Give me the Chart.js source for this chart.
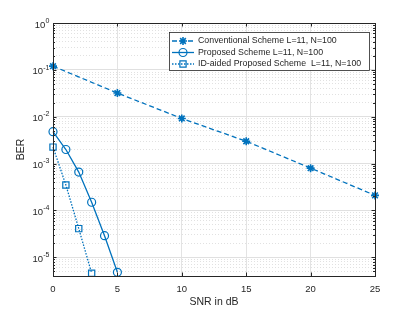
<!DOCTYPE html>
<html><head><meta charset="utf-8">
<script src="https://cdn.jsdelivr.net/npm/chart.js@4/dist/chart.umd.min.js"></script>
<style>html,body{margin:0;padding:0;background:#fff}#wrap{width:415px;height:312px;position:relative}</style>
</head><body><div id="wrap"><canvas id="c"></canvas></div>
<script>
const snrConv = [0, 5, 10, 15, 20, 25];
const berConv = [0.12, 0.032, 0.0092, 0.003, 0.0008, 0.00021];
const snrProp = [0, 1, 2, 3, 4, 5];
const berProp = [0.0048, 0.002, 0.00066, 0.00015, 0.000029, 0.0000048];
const snrId = [0, 1, 2, 3];
const berId = [0.00225, 0.00035, 0.000041, 0.0000046];
const xTicks = [0, 5, 10, 15, 20, 25];
const yDecades = [0, -1, -2, -3, -4, -5];
const seriesNames = ['Conventional Scheme L=11, N=100', 'Proposed Scheme L=11, N=100', 'ID-aided Proposed Scheme  L=11, N=100'];
const xTitle = 'SNR in dB';
const yTitle = 'BER';

const BLUE = '#0072BD';
const AX = '#262626';
const FONT = '"Liberation Sans", Arial, sans-serif';

function pts(xs, ys) { return xs.map((x, i) => ({x: x, y: ys[i]})); }

const styles = [
  {borderDash: [5, 3], pointStyle: 'star', pointRadius: 4, lineWidth: 1.3},
  {borderDash: [], pointStyle: 'circle', pointRadius: 4, lineWidth: 1.3},
  {borderDash: [1.5, 1.5], pointStyle: 'rect', pointRadius: 4.4, lineWidth: 1.3}
];

const datasets = [pts(snrConv, berConv), pts(snrProp, berProp), pts(snrId, berId)].map((d, i) => ({
  label: seriesNames[i], data: d,
  borderColor: BLUE, backgroundColor: 'rgba(0,0,0,0)',
  borderWidth: styles[i].lineWidth, borderDash: styles[i].borderDash,
  pointStyle: styles[i].pointStyle, pointRadius: styles[i].pointRadius,
  pointBorderColor: BLUE, pointBackgroundColor: 'rgba(0,0,0,0)',
  pointBorderWidth: i === 0 ? 1.6 : 1.2, tension: 0, clip: false, fill: false
}));

function isMajor(v) {
  const l = Math.log10(v);
  return Math.abs(l - Math.round(l)) < 1e-6;
}

const decoPlugin = {
  id: 'deco',
  afterDatasetsDraw(chart) {
    const ctx = chart.ctx, a = chart.chartArea;
    const xs = chart.scales.x, ys = chart.scales.y;
    ctx.save();
    // box
    ctx.strokeStyle = AX; ctx.lineWidth = 1; ctx.setLineDash([]);
    ctx.strokeRect(Math.round(a.left) + 0.5, Math.round(a.top) + 0.5, Math.round(a.right - a.left), Math.round(a.bottom - a.top));
    // x ticks
    ctx.beginPath();
    xTicks.forEach(v => {
      const px = Math.round(xs.getPixelForValue(v)) + 0.5;
      ctx.moveTo(px, a.bottom); ctx.lineTo(px, a.bottom - 3.5);
      ctx.moveTo(px, a.top); ctx.lineTo(px, a.top + 3.5);
    });
    // y ticks major & minor
    for (let e = -6; e <= 0; e++) {
      for (let m = 1; m <= 9; m++) {
        const v = m * Math.pow(10, e);
        if (v < ys.min - 1e-12 || v > ys.max + 1e-12) continue;
        const py = Math.round(ys.getPixelForValue(v)) + 0.5;
        const len = m === 1 ? 3.5 : 2;
        ctx.moveTo(a.left, py); ctx.lineTo(a.left + len, py);
        ctx.moveTo(a.right, py); ctx.lineTo(a.right - len, py);
      }
    }
    ctx.stroke();
    // x tick labels
    ctx.fillStyle = AX;
    ctx.font = '9.5px ' + FONT;
    ctx.textAlign = 'center'; ctx.textBaseline = 'middle';
    xTicks.forEach(v => ctx.fillText(String(v), xs.getPixelForValue(v), a.bottom + 13));
    // y tick labels 10^e
    yDecades.forEach(e => {
      const py = ys.getPixelForValue(Math.pow(10, e));
      const exp = String(e);
      ctx.font = '7px ' + FONT;
      const ew = ctx.measureText(exp).width;
      const right = a.left - 3.5;
      ctx.textAlign = 'right'; ctx.textBaseline = 'middle';
      ctx.fillText(exp, right, py - 2.3);
      ctx.font = '9.5px ' + FONT;
      ctx.fillText('10', right - ew - 0.2, py + 2);
    });
    // axis titles
    ctx.font = '10.5px ' + FONT;
    ctx.textAlign = 'center'; ctx.textBaseline = 'middle';
    ctx.fillText(xTitle, (a.left + a.right) / 2, a.bottom + 26);
    ctx.save();
    ctx.translate(21, (a.top + a.bottom) / 2);
    ctx.rotate(-Math.PI / 2);
    ctx.fillText(yTitle, 0, 0);
    ctx.restore();
    // legend
    const lx = 169, ly = 32, lw = 200, lh = 38;
    ctx.fillStyle = '#fff';
    ctx.fillRect(lx, ly, lw, lh);
    ctx.strokeStyle = AX; ctx.lineWidth = 0.8;
    ctx.strokeRect(lx + 0.5, ly + 0.5, lw, lh);
    const rows = [ly + 9, ly + 20.5, ly + 32];
    // fit legend font
    let fs = 8;
    ctx.font = fs + 'px ' + FONT;
    const w0 = ctx.measureText(seriesNames[0]).width;
    fs = Math.min(9.5, Math.max(7, fs * 139 / w0));
    chart.data.datasets.forEach((ds, i) => {
      const y = rows[i];
      ctx.strokeStyle = BLUE; ctx.lineWidth = styles[i].lineWidth;
      ctx.setLineDash(styles[i].borderDash);
      ctx.beginPath(); ctx.moveTo(lx + 3, y); ctx.lineTo(lx + 25, y); ctx.stroke();
      ctx.setLineDash([]);
      ctx.lineWidth = i === 0 ? 1.6 : 1.2;
      ctx.fillStyle = 'rgba(0,0,0,0)';
      Chart.helpers.drawPoint(ctx, {pointStyle: styles[i].pointStyle, radius: styles[i].pointRadius, rotation: 0, borderWidth: ctx.lineWidth}, lx + 14, y);
      ctx.fillStyle = AX;
      ctx.font = fs + 'px ' + FONT;
      ctx.textAlign = 'left'; ctx.textBaseline = 'middle';
      ctx.fillText(ds.label, lx + 29, y);
    });
    ctx.restore();
  }
};

new Chart(document.getElementById('c'), {
  type: 'line',
  data: {datasets: datasets},
  options: {
    responsive: true, maintainAspectRatio: false, animation: false,
    devicePixelRatio: 1,
    layout: {padding: {top: 23, right: 40, left: 0, bottom: 0}},
    plugins: {legend: {display: false}, tooltip: {enabled: false}},
    elements: {line: {borderCapStyle: 'butt'}},
    scales: {
      x: {
        type: 'linear', min: 0, max: 25,
        afterBuildTicks: s => { s.ticks = xTicks.map(v => ({value: v})); },
        afterFit: s => { s.height = 36; },
        ticks: {display: false},
        grid: {color: '#e3e3e3', lineWidth: 1, drawTicks: false},
        border: {display: false}
      },
      y: {
        type: 'logarithmic', min: 4e-6, max: 1,
        afterBuildTicks: s => {
          const t = [];
          for (let e = -6; e <= 0; e++) for (let m = 1; m <= 9; m++) {
            const v = m * Math.pow(10, e);
            if (v >= s.min * 0.999 && v <= s.max * 1.001) t.push({value: v, major: m === 1});
          }
          s.ticks = t;
        },
        afterFit: s => { s.width = 53; },
        ticks: {display: false},
        grid: {
          drawTicks: false,
          color: c => (c.tick && isMajor(c.tick.value)) ? '#e0e0e0' : '#d4d4d4',
          lineWidth: c => (c.tick && isMajor(c.tick.value)) ? 1 : 0.7
        },
        border: {display: false, dash: c => (c.tick && isMajor(c.tick.value)) ? [] : [1, 2]}
      }
    }
  },
  plugins: [decoPlugin]
});
</script>
</body></html>
